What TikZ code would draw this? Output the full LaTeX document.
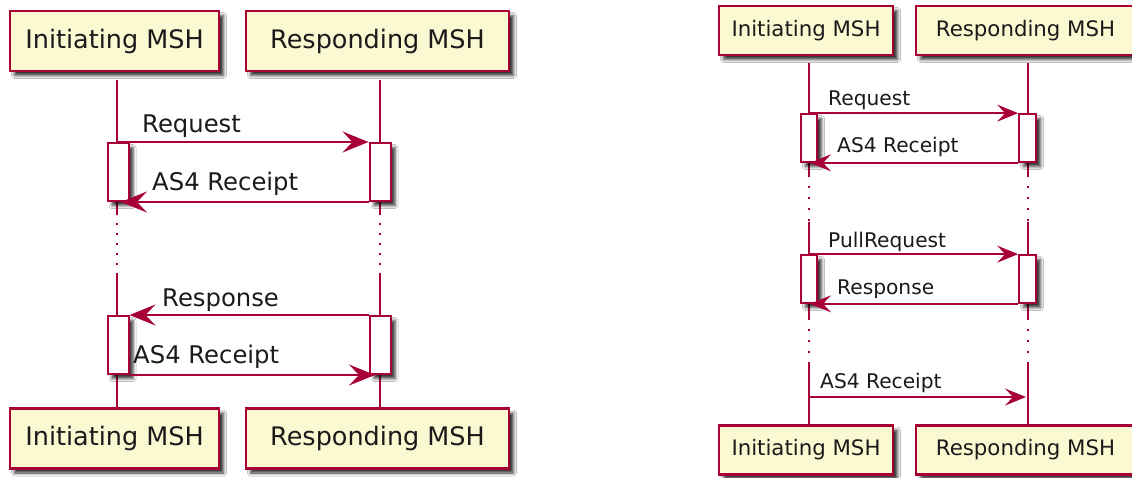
\documentclass[tikz,border=0pt]{standalone}
\usepackage{fontspec}
\setmainfont{DejaVu Sans}
\usetikzlibrary{arrows.meta,shadows.blur}
\definecolor{pred}{HTML}{A80036}
\definecolor{pfill}{HTML}{FBF9D2}
\definecolor{ptext}{HTML}{1A1A1A}
\tikzset{
  shd/.style={blur shadow={shadow xshift=4.5pt, shadow yshift=-4.5pt, shadow blur radius=3pt, shadow opacity=80}},
  partL/.style={draw=pred, fill=pfill, line width=2.6pt, inner sep=0pt, minimum height=60pt, text=ptext, font=\fontsize{25.5}{30}\selectfont, shd},
  partR/.style={draw=pred, fill=pfill, line width=2.2pt, inner sep=0pt, minimum height=49pt, text=ptext, font=\fontsize{21.3}{25}\selectfont, shd},
  actL/.style={draw=pred, fill=white, line width=2pt, inner sep=0pt, minimum width=21pt, minimum height=58pt, shd},
  actR/.style={draw=pred, fill=white, line width=1.7pt, inner sep=0pt, minimum height=48pt, shd},
  lifeL/.style={draw=pred, line width=1.9pt},
  lifeR/.style={draw=pred, line width=1.6pt},
  dotL/.style={draw=pred, line width=1.9pt, dash pattern=on 1.6pt off 8.4pt},
  dotR/.style={draw=pred, line width=1.6pt, dash pattern=on 1.5pt off 9.5pt},
  msgL/.style={draw=pred, line width=1.9pt, -{Stealth[length=26pt, width=21pt, inset=10pt, fill=pred]}},
  msgR/.style={draw=pred, line width=1.6pt, -{Stealth[length=21pt, width=17pt, inset=8pt, fill=pred]}},
  lblL/.style={inner sep=0pt, anchor=base west, text=ptext, font=\fontsize{24.3}{28}\selectfont},
  lblR/.style={inner sep=0pt, anchor=base west, text=ptext, font=\fontsize{20.2}{24}\selectfont},
}
\begin{document}
\begin{tikzpicture}[x=1pt, y=-1pt]
\useasboundingbox (0,0) rectangle (1132,477);
\fill[white] (0,0) rectangle (1132,477);

% ---------------- left diagram ----------------
\coordinate (a1) at (117,80);
\coordinate (a2) at (117,213);
\coordinate (a3) at (117,273);
\coordinate (r1) at (380,80);
\coordinate (r2) at (380,213);
\coordinate (r3) at (380,273);

\node[partL, minimum width=209pt] (iTopL) at (114.5,41) {Initiating MSH};
\node[partL, minimum width=263pt] (rTopL) at (377.5,41) {Responding MSH};
\node[partL, minimum width=209pt] (iBotL) at (114.5,438.5) {Initiating MSH};
\node[partL, minimum width=263pt] (rBotL) at (377.5,438.5) {Responding MSH};

\draw[lifeL] (a1) -- (a2);
\draw[dotL] (a2) -- (a3);
\draw[lifeL] (a3) -- (a3 |- iBotL.north);
\draw[lifeL] (r1) -- (r2);
\draw[dotL] (r2) -- (r3);
\draw[lifeL] (r3) -- (r3 |- rBotL.north);

\node[actL] (act1L) at (118,172) {};
\node[actL] (act1R) at (380,172) {};
\node[actL] (act2L) at (118,345) {};
\node[actL] (act2R) at (380,345) {};

\draw[msgL] (a1 |- act1L.north) -- (act1R.north west);
\draw[msgL] (act1R.south west) -- ([xshift=3pt]act1L.south);
\draw[msgL] (act2R.north west) -- (act2L.north east);
\draw[msgL] (act2L.south east) -- ([xshift=-5pt]act2R.south);

\node[lblL] (m1) at (142,132) {Request};
\node[lblL] (m2) at (152,190) {AS4 Receipt};
\node[lblL] (m3) at (162,306) {Response};
\node[lblL] (m4) at (133,363) {AS4 Receipt};

% ---------------- right diagram ----------------
\coordinate (b1) at (809,63);
\coordinate (b2) at (809,175);
\coordinate (b3) at (809,222);
\coordinate (b4) at (809,318);
\coordinate (b5) at (809,362);
\coordinate (s1) at (1028,63);
\coordinate (s2) at (1028,175);
\coordinate (s3) at (1028,222);
\coordinate (s4) at (1028,318);
\coordinate (s5) at (1028,362);

\node[partR, minimum width=174pt] (iTopR) at (806,30.5) {Initiating MSH};
\node[partR, minimum width=219pt] (rTopR) at (1025.5,30.5) {Responding MSH};
\node[partR, minimum width=174pt] (iBotR) at (806,450) {Initiating MSH};
\node[partR, minimum width=219pt] (rBotR) at (1025.5,450) {Responding MSH};

\draw[lifeR] (b1) -- (b2);
\draw[dotR] (b2) -- (b3);
\draw[lifeR] (b3) -- (b4);
\draw[dotR] (b4) -- (b5);
\draw[lifeR] (b5) -- (b5 |- iBotR.north);
\draw[lifeR] (s1) -- (s2);
\draw[dotR] (s2) -- (s3);
\draw[lifeR] (s3) -- (s4);
\draw[dotR] (s4) -- (s5);
\draw[lifeR] (s5) -- (s5 |- rBotR.north);

\node[actR, minimum width=16pt] (act3L) at (809,138) {};
\node[actR, minimum width=17pt] (act3R) at (1027.5,138) {};
\node[actR, minimum width=16pt] (act4L) at (809,279) {};
\node[actR, minimum width=17pt] (act4R) at (1027.5,279) {};

\coordinate (c1) at (809,397);
\coordinate (c2) at (1026,397);

\draw[msgR] (b1 |- act3L.north) -- (act3R.north west);
\draw[msgR] (act3R.south west) -- ([xshift=1pt]act3L.south);
\draw[msgR] (b1 |- act4L.north) -- (act4R.north west);
\draw[msgR] (act4R.south west) -- ([xshift=1pt]act4L.south);
\draw[msgR] (c1) -- (c2);

\node[lblR] (n1) at (828,105) {Request};
\node[lblR] (n2) at (837,152) {AS4 Receipt};
\node[lblR] (n3) at (828,247) {PullRequest};
\node[lblR] (n4) at (837,294) {Response};
\node[lblR] (n5) at (820,388) {AS4 Receipt};
\end{tikzpicture}
\end{document}
